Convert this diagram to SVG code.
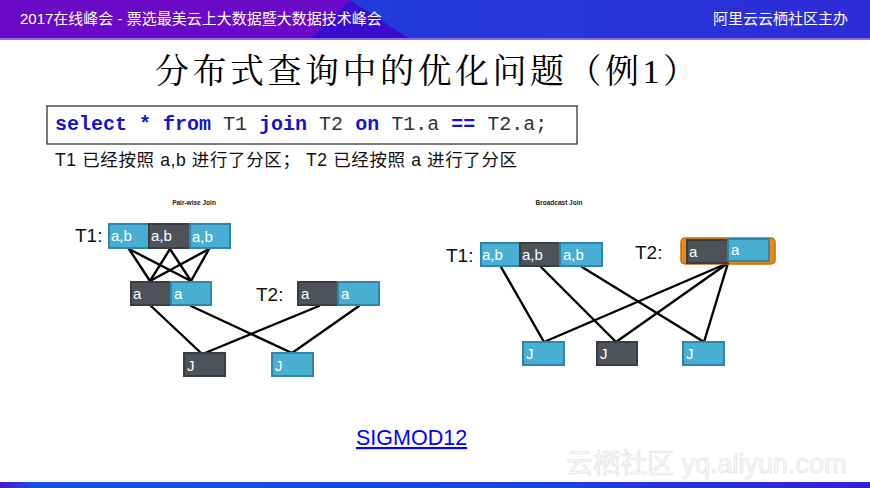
<svg xmlns="http://www.w3.org/2000/svg" width="870" height="488" viewBox="0 0 870 488">
<defs>
<linearGradient id="hdr" x1="0" y1="0" x2="1" y2="0">
<stop offset="0" stop-color="#1a48df"/>
<stop offset="1" stop-color="#2e2bd7"/>
</linearGradient>
<linearGradient id="ftr" x1="0" y1="0" x2="1" y2="0">
<stop offset="0" stop-color="#4a18c4"/>
<stop offset="0.04" stop-color="#1a50e2"/>
<stop offset="0.6" stop-color="#1c45df"/>
<stop offset="1" stop-color="#3320d2"/>
</linearGradient>
<style>
.blue{fill:#48aed2;stroke:#2e87a8;stroke-width:2}
.dark{fill:#4e5259;stroke:#393c41;stroke-width:2}
.bt{font-family:"Liberation Sans","Noto Sans",sans-serif;font-size:15px;fill:#ffffff}
.lbl{font-family:"Liberation Sans","Noto Sans",sans-serif;font-size:19px;fill:#111111}
.hd{font-family:"Liberation Sans","Noto Sans",sans-serif;font-size:6.5px;font-weight:bold;fill:#222222}
.ln{stroke:#000000;stroke-width:2.4;fill:none;stroke-linecap:round}
.kw{font-weight:bold;fill:#1414c8}
</style>
</defs>
<rect width="870" height="488" fill="#ffffff"/>
<!-- header -->
<rect x="0" y="0" width="870" height="38" fill="url(#hdr)"/>
<polygon points="0,0 350,0 311,38 0,38" fill="#6a0ac6"/>
<polygon points="350,0 311,38 408,38" fill="#3a0ccf"/>
<rect x="0" y="38" width="870" height="2" fill="#8f6ee6"/>
<text x="20" y="24" font-family="'Liberation Sans','Noto Sans CJK SC',sans-serif" font-size="15" fill="#ffffff">2017在线峰会 - 票选最美云上大数据暨大数据技术峰会</text>
<text x="848" y="24" text-anchor="end" font-family="'Liberation Sans','Noto Sans CJK SC',sans-serif" font-size="15" fill="#ffffff">阿里云云栖社区主办</text>
<!-- footer -->
<rect x="0" y="482" width="870" height="6" fill="url(#ftr)"/>
<text x="566" y="473" font-family="'Liberation Sans','Noto Sans CJK SC',sans-serif" font-size="27" fill="#fafafa" stroke="#e2e2e2" stroke-width="0.7">云栖社区 yq.aliyun.com</text>
<!-- title -->
<text x="426" y="83" text-anchor="middle" textLength="542" font-family="'Liberation Serif','Noto Serif CJK SC','Noto Sans CJK SC',serif" font-size="34" fill="#000000">分布式查询中的优化问题（例1）</text>
<!-- code -->
<g id="code">
<rect x="47" y="106" width="530" height="38" fill="#ffffff" stroke="#333333" stroke-width="1.3"/>
<text x="55" y="130" font-family="'Liberation Mono','DejaVu Sans Mono',monospace" font-size="20" fill="#333333" xml:space="preserve"><tspan class="kw">select</tspan> <tspan class="kw">*</tspan> <tspan class="kw">from</tspan> T1 <tspan class="kw">join</tspan> T2 <tspan class="kw">on</tspan> T1.a <tspan class="kw">==</tspan> T2.a;</text>
</g>
<text x="55" y="166" textLength="462" font-family="'Liberation Sans','Noto Sans CJK SC',sans-serif" font-size="17.5" fill="#111111">T1 已经按照 a,b 进行了分区； T2 已经按照 a 进行了分区</text>
<!-- connectors -->
<g id="connectors">
<line class="ln" x1="129" y1="249" x2="150" y2="281"/>
<line class="ln" x1="129" y1="249" x2="191" y2="281"/>
<line class="ln" x1="170" y1="249" x2="150" y2="281"/>
<line class="ln" x1="170" y1="249" x2="191" y2="281"/>
<line class="ln" x1="209" y1="249" x2="150" y2="281"/>
<line class="ln" x1="209" y1="249" x2="191" y2="281"/>
<line class="ln" x1="151" y1="306" x2="201" y2="353"/>
<line class="ln" x1="191" y1="306" x2="292" y2="353"/>
<line class="ln" x1="319" y1="306" x2="205" y2="353"/>
<line class="ln" x1="359" y1="306" x2="292" y2="353"/>
<line class="ln" x1="501" y1="267" x2="544" y2="342"/>
<line class="ln" x1="541" y1="267" x2="616" y2="342"/>
<line class="ln" x1="582" y1="267" x2="704" y2="342"/>
<line class="ln" x1="728" y1="263" x2="544" y2="342"/>
<line class="ln" x1="728" y1="263" x2="616" y2="342"/>
<line class="ln" x1="728" y1="263" x2="704" y2="342"/>
</g>
<!-- pair-wise join -->
<text class="hd" x="194" y="205" text-anchor="middle">Pair-wise Join</text>
<g id="pw-t1">
<text class="lbl" x="75" y="242">T1:</text>
<rect class="blue" x="109" y="224" width="40" height="24"/>
<text class="bt" x="111" y="241">a,b</text>
<rect class="dark" x="149" y="224" width="41" height="24"/>
<text class="bt" x="151" y="241">a,b</text>
<rect class="blue" x="190" y="224" width="40" height="24"/>
<text class="bt" x="192" y="242">a,b</text>
</g>
<g id="pw-mid">
<rect class="dark" x="131" y="282" width="40" height="23"/>
<text class="bt" x="133" y="299">a</text>
<rect class="blue" x="171" y="282" width="40" height="23"/>
<text class="bt" x="174" y="299">a</text>
</g>
<g id="pw-t2">
<text class="lbl" x="256" y="301">T2:</text>
<rect class="dark" x="298" y="282" width="40" height="23"/>
<text class="bt" x="301" y="299">a</text>
<rect class="blue" x="338" y="282" width="41" height="23"/>
<text class="bt" x="341" y="299">a</text>
</g>
<g id="pw-j1">
<rect class="dark" x="184" y="353" width="41" height="23"/>
<text class="bt" x="187" y="371">J</text>
</g>
<g id="pw-j2">
<rect class="blue" x="272" y="353" width="41" height="23"/>
<text class="bt" x="275" y="371">J</text>
</g>
<!-- broadcast join -->
<text class="hd" x="559" y="205" text-anchor="middle">Broadcast Join</text>
<g id="bc-t1">
<text class="lbl" x="446" y="262">T1:</text>
<rect class="blue" x="481" y="243" width="39" height="23"/>
<text class="bt" x="482" y="260">a,b</text>
<rect class="dark" x="520" y="243" width="40" height="23"/>
<text class="bt" x="522" y="260">a,b</text>
<rect class="blue" x="560" y="243" width="42" height="23"/>
<text class="bt" x="563" y="260">a,b</text>
</g>
<g id="bc-t2">
<text class="lbl" x="635" y="259">T2:</text>
<rect x="681" y="238" width="94" height="26" rx="4" fill="#e88a1a" stroke="#c06e10" stroke-width="1.5"/>
<rect class="dark" x="687" y="240" width="41" height="23"/>
<text class="bt" x="689" y="257">a</text>
<rect class="blue" x="728" y="239" width="41" height="22"/>
<text class="bt" x="731" y="255">a</text>
</g>
<g id="bc-j1">
<rect class="blue" x="523" y="342" width="41" height="23"/>
<text class="bt" x="526" y="359">J</text>
</g>
<g id="bc-j2">
<rect class="dark" x="597" y="342" width="40" height="23"/>
<text class="bt" x="600" y="359">J</text>
</g>
<g id="bc-j3">
<rect class="blue" x="683" y="342" width="41" height="23"/>
<text class="bt" x="686" y="359">J</text>
</g>
<!-- reference -->
<text x="356" y="445" font-family="'Liberation Sans','Noto Sans',sans-serif" font-size="21.5" fill="#0000ff" text-decoration="underline">SIGMOD12</text>
</svg>
